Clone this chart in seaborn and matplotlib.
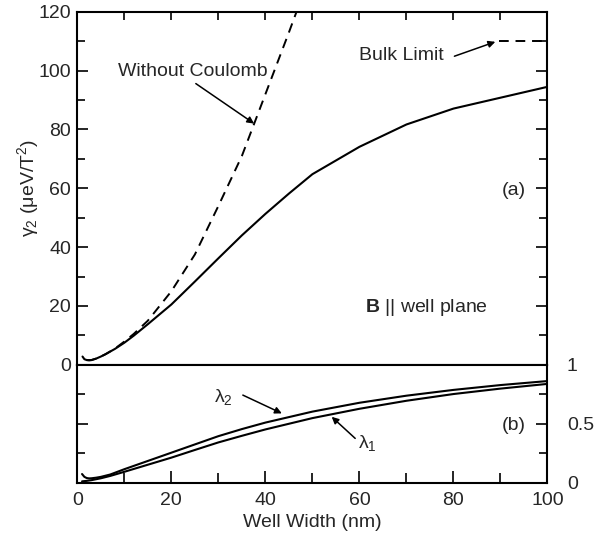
import numpy as np
import matplotlib
matplotlib.use("Agg")
import matplotlib.pyplot as plt
import seaborn as sns

# --- data ---
# (a) gamma_2 vs well width, with Coulomb (solid) and without (dashed)
width_coul = [1.1, 1.5, 2.0, 2.5, 3, 4, 5, 6, 8, 10, 12, 15, 20, 25, 30, 35, 40, 45, 50, 60, 70, 80, 90, 100]
gamma_coul = [2.8, 1.9, 1.6, 1.5, 1.6, 2.1, 2.8, 3.6, 5.4, 7.5, 9.9, 13.8, 20.5, 28.3, 36.2, 44.0, 51.3, 58.2, 64.8, 74.1, 81.7, 87.1, 90.8, 94.5]

width_free = [2.0, 3, 4, 5, 6, 8, 10, 12, 15, 20, 25, 30, 35, 40, 45, 48]
gamma_free = [1.6, 1.6, 2.1, 2.8, 3.6, 5.5, 7.9, 10.5, 15.0, 25.0, 37.5, 54.0, 71.0, 92.0, 113.0, 126.0]

bulk_limit = 110.0
bulk_from = 89.7

# (b) lambda_1 and lambda_2 vs well width
width_lam = [1.0, 1.5, 2.0, 2.5, 3, 4, 5, 7, 10, 15, 20, 25, 30, 35, 40, 50, 60, 70, 80, 90, 100]
lambda_2 = [0.074, 0.05, 0.04, 0.037, 0.038, 0.043, 0.05, 0.07, 0.115, 0.185, 0.255, 0.325, 0.395, 0.455, 0.51, 0.603, 0.678, 0.738, 0.787, 0.828, 0.862]
lambda_1 = [0.012, 0.014, 0.016, 0.019, 0.022, 0.03, 0.038, 0.058, 0.093, 0.153, 0.213, 0.278, 0.342, 0.398, 0.452, 0.548, 0.627, 0.695, 0.752, 0.798, 0.838]

sns.set_theme(style="ticks")
plt.rcParams["font.family"] = ["Liberation Sans", "DejaVu Sans"]
plt.rcParams["mathtext.fontset"] = "custom"
plt.rcParams["mathtext.rm"] = "Liberation Sans"
plt.rcParams["mathtext.it"] = "Liberation Sans"
plt.rcParams["mathtext.bf"] = "Liberation Sans:bold"
plt.rcParams["axes.linewidth"] = 1.5

FS = 14
ARROW = dict(arrowstyle="-|>", color="black", lw=1.1, mutation_scale=10, shrinkA=0, shrinkB=0)


def arrow(ax, tail, head):
    ax.annotate("", xy=head, xytext=tail, arrowprops=ARROW)


fig = plt.figure(figsize=(6.09, 5.37), dpi=100)
gs = fig.add_gridspec(2, 1, height_ratios=[353, 118], hspace=0)
fig.subplots_adjust(left=0.127, right=0.899, top=0.978, bottom=0.101)
ax_a = fig.add_subplot(gs[0])
ax_b = fig.add_subplot(gs[1], sharex=ax_a)

# --- panel (a) ---
sns.lineplot(x=width_coul, y=gamma_coul, ax=ax_a, color="black", lw=1.5, sort=False)
sns.lineplot(x=width_free, y=gamma_free, ax=ax_a, color="black", lw=1.4, sort=False,
             linestyle=(0, (5, 3.5)))
ax_a.plot([bulk_from, 100], [bulk_limit, bulk_limit], color="black", lw=1.4,
          linestyle=(0, (5, 3.5)))

ax_a.set_xlim(0, 100)
ax_a.set_ylim(0, 120)
ax_a.set_yticks(np.arange(0, 121, 20))
ax_a.set_yticks(np.arange(10, 120, 20), minor=True)
ax_a.set_xticks(np.arange(0, 101, 20))
ax_a.set_xticks(np.arange(10, 100, 20), minor=True)
ax_a.tick_params(which="both", direction="in", top=True, right=True, bottom=False,
                 labelbottom=False, labelsize=FS, width=1.2, pad=4.5, color="black")
ax_a.tick_params(which="major", length=8)
ax_a.tick_params(which="minor", length=5.5)
ax_a.tick_params(axis="x", which="both", length=6)
ax_a.set_ylabel("γ$_2$ (μeV/T$^2$)", fontsize=FS, labelpad=-2)

ax_a.text(24.5, 99.6, "Without Coulomb", fontsize=FS, ha="center", va="center")
arrow(ax_a, (25.2, 95.6), (37.6, 82.0))
ax_a.text(69.0, 105.3, "Bulk Limit", fontsize=FS, ha="center", va="center")
arrow(ax_a, (80.2, 104.9), (88.9, 109.8))
ax_a.text(92.8, 59.4, "(a)", fontsize=FS, ha="center", va="center")
ax_a.text(74.2, 19.4, r"$\mathbf{B}$ || well plane", fontsize=FS, ha="center", va="center")

# --- panel (b) ---
sns.lineplot(x=width_lam, y=lambda_2, ax=ax_b, color="black", lw=1.5, sort=False)
sns.lineplot(x=width_lam, y=lambda_1, ax=ax_b, color="black", lw=1.5, sort=False)
ax_b.set_ylim(0, 1)
ax_b.set_yticks([0, 0.5, 1])
ax_b.set_yticks([0.25, 0.75], minor=True)
ax_b.set_yticklabels(["0", "0.5", "1"])
ax_b.tick_params(which="both", direction="in", left=True, right=True, top=False,
                 labelleft=False, labelright=True, labelsize=FS, width=1.2, color="black")
ax_b.tick_params(axis="y", which="major", length=8, pad=14)
ax_b.tick_params(axis="y", which="minor", length=5.5)
ax_b.tick_params(axis="x", which="major", length=9, pad=7)
ax_b.tick_params(axis="x", which="minor", length=7)
ax_b.set_xlabel("Well Width (nm)", fontsize=FS, labelpad=3)
ax_b.set_ylabel("")

ax_b.text(31.1, 0.73, r"$\lambda_2$", fontsize=FS, ha="center", va="center")
arrow(ax_b, (35.2, 0.743), (43.5, 0.588))
ax_b.text(61.6, 0.34, r"$\lambda_1$", fontsize=FS, ha="center", va="center")
arrow(ax_b, (59.1, 0.376), (54.1, 0.559))
ax_b.text(92.8, 0.489, "(b)", fontsize=FS, ha="center", va="center")

for ax in (ax_a, ax_b):
    for s in ax.spines.values():
        s.set_visible(True)
        s.set_color("black")

fig.savefig("out.png", dpi=100)
